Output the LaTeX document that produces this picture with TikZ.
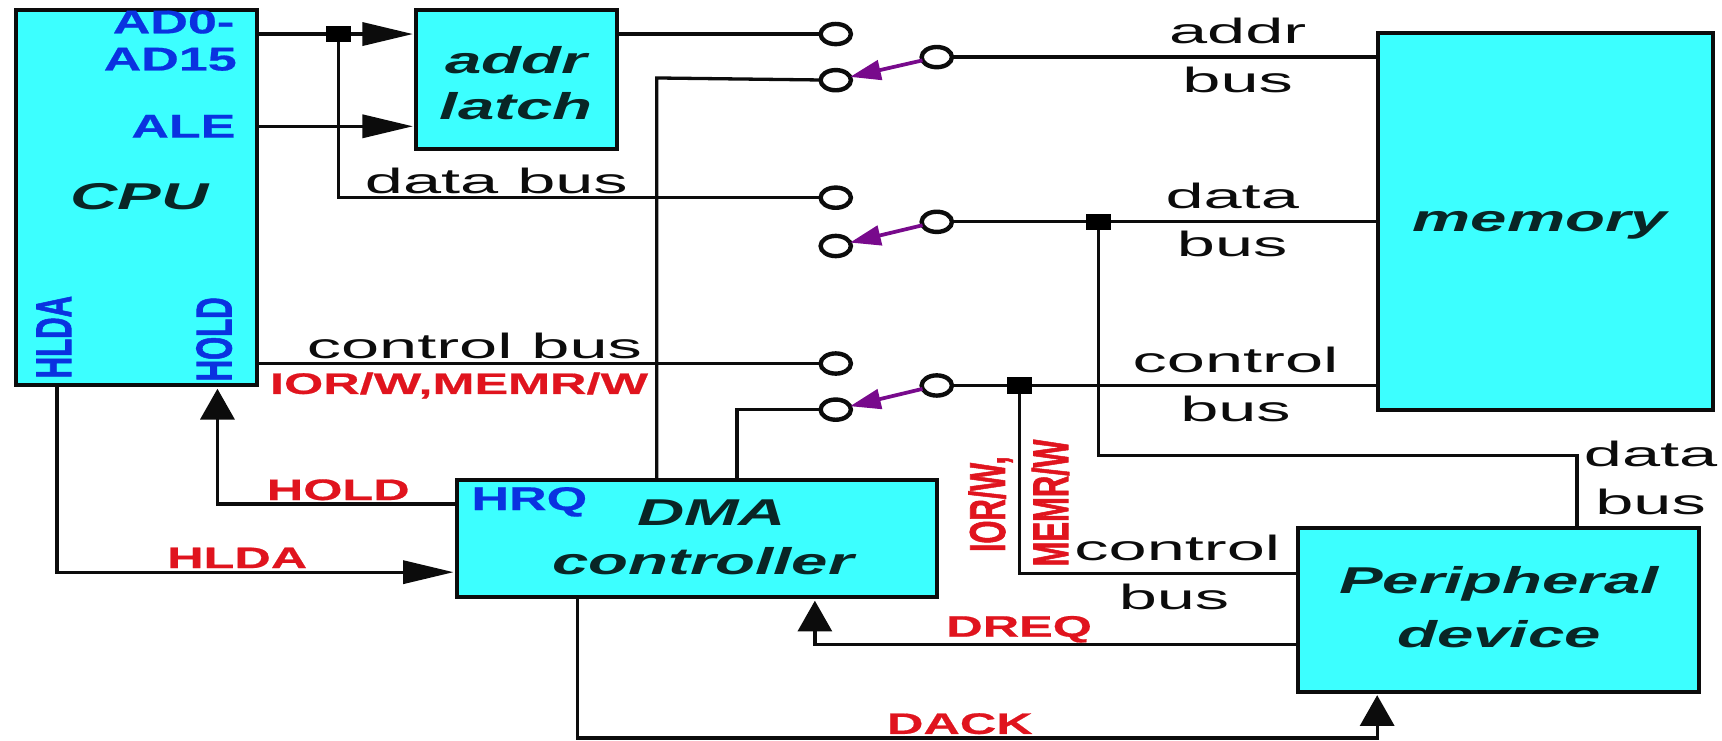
\documentclass[tikz,border=0pt]{standalone}
\usepackage{fontspec}
\setmainfont{Liberation Sans}
\newfontfamily\ttlf[FakeStretch=1.75]{Liberation Sans}
\newfontfamily\busf[FakeStretch=1.95]{Liberation Sans}
\newfontfamily\bluef[FakeStretch=1.58,BoldFeatures={FakeBold=0.6}]{Liberation Sans}
\newfontfamily\redf[FakeStretch=1.7,BoldFeatures={FakeBold=0.6}]{Liberation Sans}
\newfontfamily\rotf[BoldFeatures={FakeBold=1.6}]{Liberation Sans}
\usetikzlibrary{arrows.meta}
\definecolor{boxc}{HTML}{3CFFFF}
\definecolor{lblue}{HTML}{0A32E0}
\definecolor{lred}{HTML}{E0141E}
\definecolor{swp}{HTML}{780A8C}
\definecolor{ink}{HTML}{0C0C0C}
\tikzset{
  blockbox/.style={draw=ink,line width=3.6pt,fill=boxc,inner sep=0pt,outer sep=0pt},
  wire/.style={draw=ink,line width=3pt,line join=miter},
  hhead/.style={wire,-{Triangle[length=46pt,width=21pt]},shorten >=3pt},
  vhead/.style={wire,-{Triangle[length=28pt,width=31pt]},shorten >=3pt},
  contact/.style={circle,draw=ink,line width=4pt,fill=white,minimum width=23pt,minimum height=19pt,inner sep=0pt,outer sep=0pt,xscale=1.2,yscale=0.8},
  dotj/.style={fill=black,inner sep=0pt,minimum width=23pt,minimum height=15pt,outer sep=0pt},
  swarrow/.style={draw=swp,line width=3.4pt,-{Triangle[length=28pt,width=18pt]}},
  title/.style={font=\ttlf\bfseries\itshape\fontsize{34}{34}\selectfont,text=black!85!boxc,inner sep=0pt},
  busl/.style={font=\busf\fontsize{32}{32}\selectfont,text=ink,inner sep=0pt},
  bl/.style={font=\bluef\bfseries\fontsize{30}{30}\selectfont,text=lblue,inner sep=0pt},
  rl/.style={font=\redf\bfseries\fontsize{27}{27}\selectfont,text=lred,inner sep=0pt},
  brot/.style={font=\rotf\bfseries\fontsize{27}{27}\selectfont,text=lblue,inner sep=0pt,rotate=90,yscale=1.7},
  rrot/.style={font=\rotf\bfseries\fontsize{27}{27}\selectfont,text=lred,inner sep=0pt,rotate=90,yscale=1.7},
}
\begin{document}
\begin{tikzpicture}[x=1pt,y=-1pt]
\useasboundingbox (0,0) rectangle (1568,674);
\fill[white] (0,0) rectangle (1568,674);
% blocks
\node[blockbox,minimum width=219pt,minimum height=342pt] (cpu) at (124.5,180) {};
\node[blockbox,minimum width=183pt,minimum height=127pt] (latch) at (470.5,72.5) {};
\node[blockbox,minimum width=305pt,minimum height=343pt] (mem) at (1407.5,201.5) {};
\node[blockbox,minimum width=437pt,minimum height=107pt] (dma) at (634.5,490.5) {};
\node[blockbox,minimum width=365pt,minimum height=149pt] (per) at (1364.5,555.5) {};
% contacts
\node[contact] (a1) at (761,31) {};
\node[contact] (a2) at (761,73) {};
\node[contact] (a0) at (853,52) {};
\node[contact] (d1) at (761,180) {};
\node[contact] (d2) at (761,224) {};
\node[contact] (d0) at (853,202) {};
\node[contact] (c1) at (761,331) {};
\node[contact] (c2) at (761,373) {};
\node[contact] (c0) at (853,351) {};
% junctions
\node[dotj] (ja) at (308,31) {};
\node[dotj] (jd) at (1000,202) {};
\node[dotj] (jc) at (928,351) {};
% corner points
\coordinate (dbc) at (308,180);
\coordinate (ale) at (234,115);
\coordinate (aleend) at (379,115);
\coordinate (dmaa) at (598,71);
\coordinate (dmac) at (671,373);
\coordinate (holdc) at (198,459);
\coordinate (hldac) at (52,521);
\coordinate (dreqc) at (742,587);
\coordinate (dackl) at (526,672);
\coordinate (dackr) at (1254,672);
\coordinate (dbp1) at (1000,415);
\coordinate (dbp2) at (1436,415);
\coordinate (cbp) at (928,522);
% wires
\draw[wire] (cpu.east |- ja) -- (ja);
\draw[hhead] (ja) -- (latch.west |- ja);
\draw[hhead] (cpu.east |- ale) -- (latch.west |- ale);
\draw[wire] (ja) -- (dbc) -- (d1);
\draw[wire] (latch.east |- a1) -- (a1);
\draw[wire] (dma.north -| dmaa) -- (dmaa) -- (a2);
\draw[wire] (a0) -- (mem.west |- a0);
\draw[wire] (d0) -- (jd) -- (mem.west |- jd);
\draw[wire] (jd) -- (dbp1) -- (dbp2) -- (per.north -| dbp2);
\draw[wire] (cpu.east |- c1) -- (c1);
\draw[wire] (dma.north -| dmac) -- (dmac) -- (c2);
\draw[wire] (c0) -- (jc) -- (mem.west |- jc);
\draw[wire] (jc) -- (cbp) -- (per.west |- cbp);
\draw[vhead] (dma.west |- holdc) -- (holdc) -- (cpu.south -| holdc);
\draw[hhead] (cpu.south -| hldac) -- (hldac) -- (dma.west |- hldac);
\draw[vhead] (per.west |- dreqc) -- (dreqc) -- (dma.south -| dreqc);
\draw[vhead] (dma.south -| dackl) -- (dackl) -- (dackr) -- (per.south -| dackr);
% switch arms
\draw[swarrow] (a0) -- (a2);
\draw[swarrow] (d0) -- (d2);
\draw[swarrow] (c0) -- (c2);
% labels
\node[bl] (t1) at (158,20) {AD0-};
\node[bl] (t2) at (155,54) {AD15};
\node[bl] (t3) at (167,115) {ALE};
\node[title] (t4) at (127,179) {CPU};
\node[brot] (t5) at (49,307) {HLDA};
\node[brot] (t6) at (195,309) {HOLD};
\node[title] (t7) at (470,55) {addr};
\node[title] (t8) at (470,97) {latch};
\node[busl] (t9) at (452,165) {data bus};
\node[busl] (t10) at (432,315) {control bus};
\node[rl] (t11) at (418,351) {IOR/W,MEMR/W};
\node[busl] (t12) at (1127,28) {addr};
\node[busl] (t13) at (1127,73) {bus};
\node[busl] (t14) at (1122,178) {data};
\node[busl] (t15) at (1122,222) {bus};
\node[busl] (t16) at (1125,328) {control};
\node[busl] (t17) at (1125,372) {bus};
\node[busl] (t18) at (1503,413) {data};
\node[busl] (t19) at (1503,457) {bus};
\node[title] (t20) at (1402,205) {memory};
\node[title] (t21) at (648,467) {DMA};
\node[title] (t22) at (640,511) {controller};
\node[bl] (t23) at (482,457) {HRQ};
\node[rl] (t24) at (308,446) {HOLD};
\node[rl] (t25) at (216,508) {HLDA};
\node[rl] (t26) at (928,573) {DREQ};
\node[rl] (t27) at (874,659) {DACK};
\node[rrot] (t28) at (902,459) {IOR/W,};
\node[rrot] (t29) at (956.5,458) {MEMR/W};
\node[busl] (t30) at (1072,499) {control};
\node[busl] (t31) at (1069,544) {bus};
\node[title] (t32) at (1365,532) {Peripheral};
\node[title] (t33) at (1365,577) {device};
\end{tikzpicture}
\end{document}
